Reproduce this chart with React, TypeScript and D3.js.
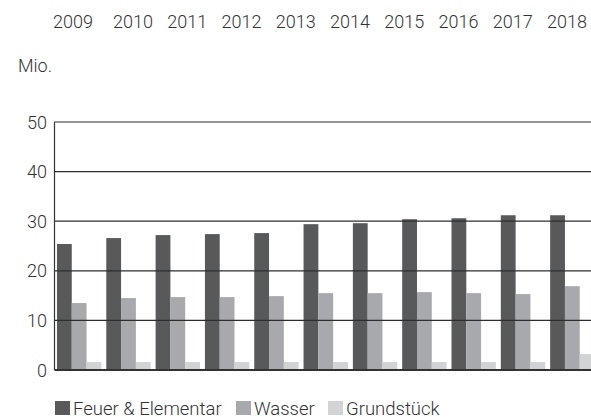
import React, { useEffect, useRef } from "react";
import * as d3 from "d3";

// header years (printed above the chart)
const headerYears = ["2009", "2010", "2011", "2012", "2013", "2014", "2015", "2016", "2017", "2018"];
// bar groups
const groups = ["2008", "2009", "2010", "2011", "2012", "2013", "2014", "2015", "2016", "2017", "2018"];
const seriesNames = ["Feuer & Elementar", "Wasser", "Grundstück"];
const feuer = [25.4, 26.6, 27.2, 27.4, 27.6, 29.4, 29.6, 30.4, 30.6, 31.2, 31.2];
const wasser = [13.5, 14.5, 14.7, 14.7, 14.9, 15.5, 15.5, 15.7, 15.5, 15.3, 16.9];
const grund = [1.6, 1.6, 1.6, 1.6, 1.6, 1.6, 1.6, 1.6, 1.6, 1.6, 3.2];
const yTicks = [0, 10, 20, 30, 40, 50];
const colors = ["#58595b", "#a7a9ac", "#d1d3d4"];

const W = 591, H = 417;
const FONT = "Roboto, sans-serif";

export default function App() {
  const ref = useRef<SVGSVGElement>(null);

  useEffect(() => {
    const svg = d3.select(ref.current);
    svg.selectAll("*").remove();

    const values = [feuer, wasser, grund];
    const x = d3.scaleBand().domain(groups).range([54.5, 597]).paddingInner(0.1).paddingOuter(0.05);
    const xi = d3.scaleBand().domain(seriesNames).range([0, x.bandwidth()]);
    const y = d3.scaleLinear().domain([0, 50]).range([370, 122]);

    // bars
    const g = svg.append("g");
    groups.forEach((grp, i) => {
      seriesNames.forEach((s, j) => {
        const v = values[j][i];
        g.append("rect")
          .attr("x", x(grp)! + xi(s)!)
          .attr("y", y(v))
          .attr("width", xi.bandwidth())
          .attr("height", y(0) - y(v))
          .attr("fill", colors[j]);
      });
    });

    // grid lines on top of the bars
    svg.append("g").selectAll("line")
      .data(yTicks.filter(t => t > 0))
      .join("line")
      .attr("x1", 54.5).attr("x2", W)
      .attr("y1", d => y(d)).attr("y2", d => y(d))
      .attr("stroke", "#2e2e2e").attr("stroke-width", 1.2);

    // baseline + left axis
    svg.append("line")
      .attr("x1", 54.5).attr("x2", W).attr("y1", y(0)).attr("y2", y(0))
      .attr("stroke", "#333").attr("stroke-width", 2);
    svg.append("line")
      .attr("x1", 54.5).attr("x2", 54.5).attr("y1", y(50)).attr("y2", y(0))
      .attr("stroke", "#333").attr("stroke-width", 1.2);

    // y tick labels
    svg.append("g").selectAll("text")
      .data(yTicks)
      .join("text")
      .attr("x", 47)
      .attr("y", d => y(d) + 6.5)
      .attr("text-anchor", "end")
      .attr("font-family", FONT).attr("font-weight", 300).attr("font-size", 18)
      .attr("fill", "#333")
      .text(d => d);

    // header years
    const hx = d3.scalePoint().domain(headerYears.slice(1)).range([113, 547]);
    svg.append("g").selectAll("text")
      .data(headerYears)
      .join("text")
      .attr("x", (d, i) => (i === 0 ? hx(headerYears[1])! - 60 : hx(d)!))
      .attr("y", 28)
      .attr("font-family", FONT).attr("font-weight", 300).attr("font-size", 18)
      .attr("fill", "#333")
      .text(d => d);

    svg.append("text")
      .attr("x", 18).attr("y", 72)
      .attr("font-family", FONT).attr("font-weight", 300).attr("font-size", 18)
      .attr("fill", "#333")
      .text("Mio.");

    // legend
    const legendX = [55, 236, 328];
    const lg = svg.append("g").selectAll("g")
      .data(seriesNames)
      .join("g")
      .attr("transform", (d, i) => `translate(${legendX[i]}, 401)`);
    lg.append("rect").attr("width", 15).attr("height", 14).attr("fill", (d, i) => colors[i]);
    lg.append("text")
      .attr("x", 18).attr("y", 14)
      .attr("font-family", FONT).attr("font-weight", 300).attr("font-size", 18.5)
      .attr("fill", "#333")
      .text(d => d);
  }, []);

  return (
    <svg ref={ref} width={W} height={H} style={{ position: "absolute", left: 0, top: 0, background: "#fff" }} />
  );
}
